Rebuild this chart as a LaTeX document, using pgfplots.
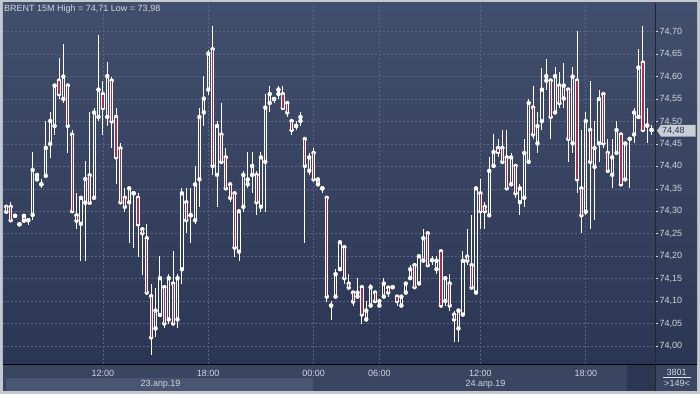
\documentclass[border=0pt]{standalone}
\usepackage{fontspec}
\setmainfont{Liberation Sans}
\usepackage{pgfplots}
\usepackage{pgfplotstable}
\pgfplotsset{compat=1.18}
\definecolor{bgtop}{HTML}{424F6C}
\definecolor{bgbot}{HTML}{2B3654}
\definecolor{gridc}{HTML}{5A6683}
\definecolor{lbl}{HTML}{D2D6DE}
\definecolor{candlered}{HTML}{A8304A}
\definecolor{framec}{HTML}{C4C8CF}
\definecolor{botrow}{HTML}{3A4562}
\definecolor{daterow}{HTML}{4A5571}
\definecolor{darkbox}{HTML}{2C3754}
\definecolor{tagc}{HTML}{C9CDD5}
\definecolor{tagtext}{HTML}{2A3350}

\pgfplotstableread{
i O H L C
-1 74.331 74.331 74.331 74.331
0 74.310 74.310 74.299 74.299
1 74.310 74.320 74.280 74.280
2 74.290 74.290 74.290 74.290
3 74.271 74.271 74.271 74.271
4 74.279 74.290 74.279 74.290
5 74.280 74.280 74.270 74.280
6 74.292 74.432 74.280 74.392
7 74.371 74.381 74.371 74.381
8 74.360 74.371 74.351 74.360
9 74.379 74.501 74.379 74.441
10 74.450 74.520 74.419 74.501
11 74.490 74.580 74.470 74.580
12 74.591 74.642 74.550 74.561
13 74.550 74.672 74.540 74.600
14 74.580 74.580 74.430 74.490
15 74.471 74.481 74.300 74.300
16 74.291 74.340 74.260 74.279
17 74.272 74.330 74.190 74.330
18 74.319 74.412 74.190 74.372
19 74.380 74.521 74.319 74.319
20 74.330 74.531 74.330 74.520
21 74.510 74.692 74.500 74.571
22 74.561 74.590 74.470 74.530
23 74.510 74.632 74.490 74.601
24 74.591 74.600 74.440 74.500
25 74.510 74.531 74.360 74.420
26 74.440 74.451 74.320 74.320
27 74.330 74.351 74.299 74.310
28 74.320 74.351 74.230 74.351
29 74.340 74.340 74.219 74.340
30 74.330 74.340 74.199 74.271
31 74.260 74.260 74.159 74.251
32 74.240 74.271 74.119 74.119
33 74.111 74.139 73.980 74.019
34 74.039 74.130 74.019 74.079
35 74.069 74.200 74.069 74.151
36 74.131 74.131 74.039 74.050
37 74.059 74.160 74.050 74.151
38 74.139 74.211 74.050 74.050
39 74.059 74.160 74.039 74.151
40 74.171 74.351 74.139 74.340
41 74.320 74.351 74.251 74.280
42 74.291 74.351 74.230 74.291
43 74.280 74.401 74.271 74.360
44 74.371 74.531 74.310 74.510
45 74.520 74.601 74.490 74.551
46 74.571 74.660 74.560 74.651
47 74.661 74.712 74.381 74.401
48 74.381 74.501 74.310 74.490
49 74.471 74.541 74.410 74.410
50 74.420 74.441 74.351 74.351
51 74.360 74.360 74.320 74.330
52 74.340 74.340 74.199 74.219
53 74.210 74.300 74.190 74.300
54 74.310 74.390 74.299 74.381
55 74.360 74.432 74.351 74.371
56 74.381 74.432 74.340 74.401
57 74.381 74.390 74.291 74.320
58 74.310 74.432 74.299 74.420
59 74.410 74.561 74.299 74.531
60 74.541 74.580 74.520 74.561
61 74.550 74.550 74.540 74.550
62 74.561 74.580 74.550 74.571
63 74.561 74.580 74.530 74.530
64 74.541 74.541 74.510 74.520
65 74.501 74.501 74.470 74.481
66 74.490 74.501 74.481 74.490
67 74.501 74.520 74.490 74.510
68 74.461 74.461 74.230 74.401
69 74.390 74.430 74.381 74.420
70 74.430 74.441 74.371 74.371
71 74.360 74.371 74.360 74.371
72 74.351 74.351 74.340 74.351
73 74.330 74.330 74.099 74.110
74 74.090 74.100 74.059 74.090
75 74.110 74.171 74.110 74.160
76 74.171 74.231 74.171 74.231
77 74.220 74.220 74.139 74.151
78 74.139 74.160 74.130 74.130
79 74.119 74.119 74.090 74.099
80 74.110 74.151 74.110 74.119
81 74.131 74.131 74.050 74.070
82 74.059 74.100 74.059 74.079
83 74.090 74.139 74.090 74.131
84 74.119 74.119 74.100 74.100
85 74.090 74.100 74.090 74.100
86 74.110 74.151 74.110 74.139
87 74.130 74.130 74.110 74.119
88 74.131 74.131 74.131 74.131
89 74.110 74.110 74.090 74.100
90 74.090 74.110 74.090 74.110
91 74.119 74.139 74.119 74.139
92 74.151 74.180 74.151 74.171
93 74.180 74.180 74.131 74.131
94 74.139 74.200 74.139 74.200
95 74.190 74.260 74.190 74.240
96 74.251 74.251 74.180 74.180
97 74.191 74.200 74.180 74.191
98 74.171 74.200 74.160 74.190
99 74.211 74.211 74.090 74.090
100 74.100 74.151 74.090 74.151
101 74.139 74.160 74.079 74.090
102 74.070 74.079 74.010 74.059
103 74.039 74.079 74.010 74.079
104 74.070 74.211 74.070 74.190
105 74.199 74.260 74.180 74.190
106 74.180 74.291 74.130 74.130
107 74.119 74.351 74.119 74.351
108 74.340 74.371 74.260 74.300
109 74.310 74.320 74.260 74.300
110 74.291 74.420 74.291 74.390
111 74.401 74.471 74.401 74.432
112 74.441 74.461 74.420 74.432
113 74.441 74.481 74.410 74.410
114 74.420 74.481 74.351 74.351
115 74.360 74.430 74.360 74.420
116 74.401 74.401 74.330 74.340
117 74.320 74.360 74.291 74.351
118 74.330 74.461 74.310 74.430
119 74.410 74.550 74.410 74.541
120 74.531 74.580 74.461 74.471
121 74.451 74.520 74.430 74.490
122 74.501 74.620 74.481 74.571
123 74.591 74.640 74.570 74.601
124 74.591 74.591 74.461 74.510
125 74.520 74.621 74.520 74.601
126 74.580 74.611 74.530 74.541
127 74.551 74.631 74.530 74.580
128 74.571 74.571 74.410 74.461
129 74.451 74.621 74.430 74.600
130 74.591 74.701 74.340 74.371
131 74.351 74.481 74.251 74.291
132 74.299 74.520 74.291 74.501
133 74.481 74.591 74.260 74.410
134 74.399 74.501 74.280 74.441
135 74.451 74.571 74.410 74.550
136 74.561 74.561 74.441 74.451
137 74.430 74.461 74.390 74.390
138 74.381 74.461 74.351 74.420
139 74.430 74.501 74.430 74.481
140 74.471 74.471 74.360 74.360
141 74.371 74.451 74.371 74.451
142 74.461 74.461 74.351 74.461
143 74.471 74.531 74.451 74.520
144 74.510 74.661 74.510 74.620
145 74.631 74.712 74.481 74.481
146 74.491 74.531 74.451 74.491
147 74.481 74.491 74.470 74.481
}\candles

\begin{document}
\begin{tikzpicture}[x=1pt,y=1pt,font=\fontsize{9}{10}\selectfont]
\useasboundingbox (0,0) rectangle (700,394);
\fill[framec] (0,0) rectangle (700,394);
\fill[botrow] (2.5,3.3) rectangle (697,391.3);
\shade[top color=bgtop, bottom color=bgbot] (655,30) rectangle (697,391.3);
\fill[daterow] (6,3.3) rectangle (313,15.7);
\fill[darkbox] (627,3.3) rectangle (655,29.5);

\begin{axis}[
  at={(3pt,30pt)}, anchor=south west,
  width=652pt, height=361pt, scale only axis,
  xmin=-0.75, xmax=147.77, ymin=73.9599, ymax=74.7638,
  enlargelimits=false,
  axis line style={draw=none},
  axis background/.style={shade, top color=bgtop, bottom color=bgbot},
  xtick={22,46,70,85,108,132},
  xticklabels={12:00,18:00,00:00,06:00,12:00,18:00},
  ytick={74,74.05,74.1,74.15,74.2,74.25,74.3,74.35,74.4,74.45,74.5,74.55,74.6,74.65,74.7},
  yticklabels={{74,00},{74,05},{74,10},{74,15},{74,20},{74,25},{74,30},{74,35},{74,40},{74,45},{74,50},{74,55},{74,60},{74,65},{74,70}},
  grid=major,
  major grid style={draw=gridc, line width=0.6pt, dash pattern=on 2pt off 2pt},
  ytick pos=right, yticklabel pos=right, tick align=outside,
  major tick length=3pt,
  xtick style={draw=none},
  ytick style={draw=lbl, line width=0.6pt},
  ticklabel style={font=\fontsize{9}{10}\selectfont, text=lbl},
  xticklabel style={yshift=0.8pt},
  yticklabel style={xshift=-2pt},
]
\addplot[white, only marks, mark=none, forget plot,
  error bars/.cd, y dir=plus, y explicit, error mark=none,
  error bar style={draw=white, line width=0.9pt}]
  table[x=i, y expr={max(\thisrow{O},\thisrow{C})},
        y error plus expr={\thisrow{H}-max(\thisrow{O},\thisrow{C})}] {\candles};
\addplot[white, only marks, mark=none, forget plot,
  error bars/.cd, y dir=minus, y explicit, error mark=none,
  error bar style={draw=white, line width=0.9pt}]
  table[x=i, y expr={min(\thisrow{O},\thisrow{C})},
        y error minus expr={min(\thisrow{O},\thisrow{C})-\thisrow{L}}] {\candles};
\end{axis}

\begin{axis}[
  at={(3pt,30pt)}, anchor=south west,
  width=652pt, height=361pt, scale only axis,
  xmin=-0.75, xmax=147.77, ymin=-0.0401, ymax=0.7638,
  enlargelimits=false,
  hide axis,
  ybar stacked, bar width=2.2pt,
]
\addplot[draw=none, fill=none] table[x=i, y expr={min(\thisrow{O},\thisrow{C})-74}] {\candles};
\addplot[draw=white, fill=none, line width=0.9pt] table[x=i, y expr={max(\thisrow{C}-\thisrow{O},0)}] {\candles};
\addplot[draw=white, fill=candlered, line width=0.9pt] table[x=i, y expr={max(\thisrow{O}-\thisrow{C},0)}] {\candles};
\end{axis}

\draw[black, line width=0.9pt] (2.5,30) -- (697,30);
\draw[black!85, line width=0.9pt] (655.5,3.3) -- (655.5,391.3);
\draw[lbl!60, line width=0.5pt] (663,16.7) -- (691,16.7);

\node[anchor=base west, inner sep=0, text=lbl] at (4,382.3) {BRENT 15M High = 74,71 Low = 73,98};
\node[anchor=base, inner sep=0, text=lbl] at (160.5,7.6) {23.апр.19};
\node[anchor=base, inner sep=0, text=lbl] at (485.5,7.6) {24.апр.19};
\node[anchor=base, inner sep=0, text=lbl] at (676.7,19) {3801};
\node[anchor=base, inner sep=0, text=lbl] at (677,7.2) {>149<};

\fill[tagc] (657,263.3) -- (661,269.2) -- (695.5,269.2) -- (695.5,257.4) -- (661,257.4) -- cycle;
\node[anchor=west, inner sep=0, text=tagtext] at (662,263.3) {74,48};
\end{tikzpicture}
\end{document}
